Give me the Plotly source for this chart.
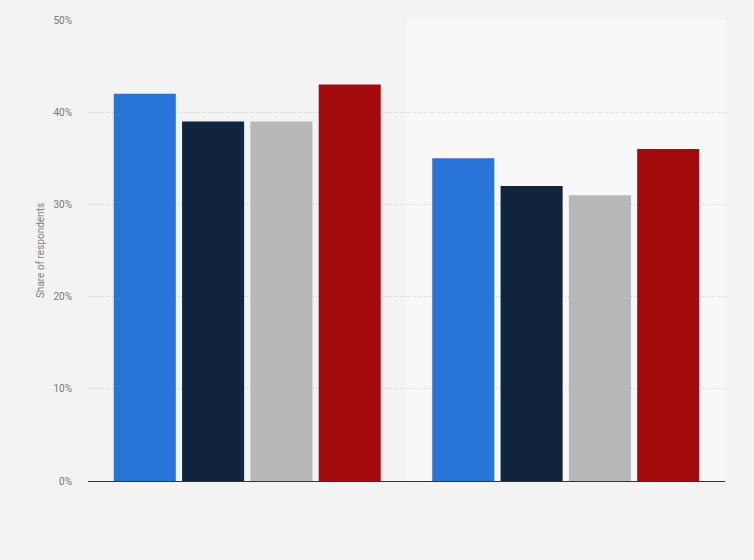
import plotly.graph_objects as go

# Dados
categorias = ["Grupo A", "Grupo B"]
series_nomes = ["Série 1", "Série 2", "Série 3", "Série 4"]
valores = {
    "Série 1": [42, 35],
    "Série 2": [39, 32],
    "Série 3": [39, 31],
    "Série 4": [43, 36],
}
cores = ["#2775d9", "#10253d", "#b8b8b8", "#a20a0b"]
y_ticks = [0, 10, 20, 30, 40, 50]
y_tick_labels = ["0%", "10%", "20%", "30%", "40%", "50%"]

fig = go.Figure()

for nome, cor in zip(series_nomes, cores):
    fig.add_trace(go.Bar(
        name=nome,
        x=categorias,
        y=valores[nome],
        marker=dict(color=cor, line=dict(width=0)),
        hovertemplate='<b>%{x}</b><br>' + nome + ': %{y}%<extra></extra>'
    ))

# Fundo mais claro na segunda categoria
fig.add_shape(
    type="rect", xref="paper", yref="paper",
    x0=0.5, x1=1, y0=0, y1=1,
    fillcolor="#f8f8f8", line=dict(width=0), layer="below"
)

fig.update_layout(
    width=754, height=560,
    paper_bgcolor="#f3f3f3",
    plot_bgcolor="#f3f3f3",
    barmode='group',
    bargap=0.142,
    bargroupgap=0.092,
    showlegend=False,
    font=dict(family="Roboto, Arial, sans-serif", size=10, color="#777777"),
    margin=dict(l=88, r=29, t=20, b=79),
    xaxis=dict(
        showticklabels=False,
        showgrid=False,
        showline=True,
        linecolor="#333333",
        linewidth=1,
        ticks="",
    ),
    yaxis=dict(
        title=dict(text="Share of respondents", font=dict(size=10, color="#808080"), standoff=6),
        range=[0, 50],
        tickvals=y_ticks,
        ticktext=y_tick_labels,
        showgrid=True,
        gridcolor="#cccccc",
        griddash="1px,2px",
        gridwidth=1,
        zeroline=False,
        ticks="",
        ticklabelstandoff=15,
    ),
)

# Remove a margem do body para alinhar o gráfico à janela
fig.write_html(
    "out.html",
    config={"displayModeBar": False},
    post_script="document.body.style.margin='0';",
)
